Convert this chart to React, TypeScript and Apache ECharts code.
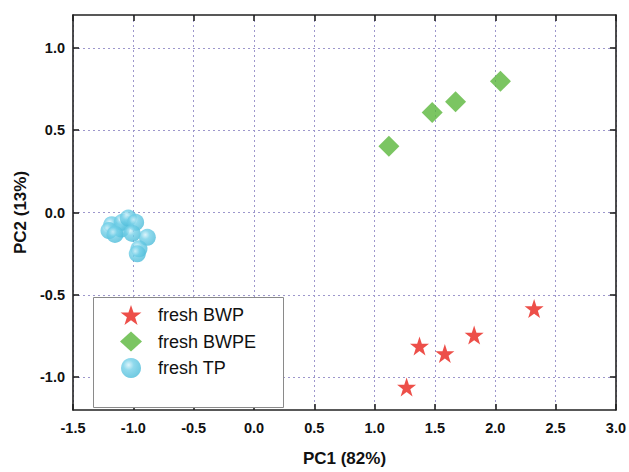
import React, { useEffect, useRef } from "react";
import * as echarts from "echarts";

const bwpX = [1.265, 1.372, 1.582, 1.825, 2.322];
const bwpY = [-1.06, -0.811, -0.857, -0.745, -0.584];

const bwpeX = [1.118, 1.477, 1.671, 2.043];
const bwpeY = [0.402, 0.607, 0.673, 0.797];

const tpX = [-1.179, -1.202, -1.1, -1.092, -1.042, -0.981, -1.009, -0.884, -0.953, -0.967, -1.152];
const tpY = [-0.074, -0.11, -0.101, -0.06, -0.034, -0.06, -0.127, -0.151, -0.221, -0.251, -0.133];

const seriesNames = ["fresh BWP", "fresh BWPE", "fresh TP"];
const yTickValues = [-1.0, -0.5, 0.0, 0.5, 1.0];

const STAR = "path://M50,2 L61.5,36 L97,36 L68.5,57.5 L79.5,92 L50,71 L20.5,92 L31.5,57.5 L3,36 L38.5,36 Z";
const FONT = 'Arial, "Liberation Sans", sans-serif';

const zip = (xs: number[], ys: number[]) => xs.map((x, i) => [x, ys[i]]);

const sphere = new echarts.graphic.RadialGradient(0.38, 0.35, 0.75, [
  { offset: 0, color: "#d6f2fa" },
  { offset: 0.35, color: "#74d0e8" },
  { offset: 1, color: "#45b8d6" },
]);

export default function App() {
  const ref = useRef<HTMLDivElement>(null);
  useEffect(() => {
    if (!ref.current) return;
    const chart = echarts.init(ref.current, undefined, { renderer: "svg" });
    const gridLine = { show: true, lineStyle: { color: "#9d97cc", type: [2, 3], width: 1 } };
    const frameLine = { show: true, onZero: false, lineStyle: { color: "#222", width: 1.6 } };
    const tick = { show: true, inside: true, length: 6, lineStyle: { color: "#222", width: 1.6 } };
    const labelStyle = { fontFamily: FONT, fontWeight: "bold" as const, fontSize: 14.5, color: "#111" };
    const titleStyle = { fontFamily: FONT, fontWeight: "bold" as const, fontSize: 17, color: "#111" };
    chart.setOption({
      animation: false,
      backgroundColor: "#fff",
      grid: { left: 73, right: 12, top: 15, bottom: 58, containLabel: false },
      xAxis: [
        {
          type: "value",
          min: -1.5,
          max: 3.0,
          interval: 0.5,
          position: "bottom",
          name: "PC1 (82%)",
          nameLocation: "middle",
          nameGap: 40,
          nameTextStyle: titleStyle,
          axisLine: frameLine,
          axisTick: tick,
          axisLabel: { ...labelStyle, margin: 10, formatter: (v: number) => v.toFixed(1) },
          splitLine: gridLine,
        },
        {
          type: "value",
          min: -1.5,
          max: 3.0,
          interval: 0.5,
          position: "top",
          axisLine: frameLine,
          axisTick: tick,
          axisLabel: { show: false },
          splitLine: { show: false },
        },
      ],
      yAxis: [
        {
          type: "value",
          min: -1.2,
          max: 1.2,
          position: "left",
          name: "PC2 (13%)",
          nameLocation: "middle",
          nameGap: 42,
          nameTextStyle: titleStyle,
          axisLine: frameLine,
          axisTick: { ...tick, customValues: yTickValues },
          axisLabel: { ...labelStyle, margin: 8, customValues: yTickValues, formatter: (v: number) => v.toFixed(1) },
          splitLine: gridLine,
        },
        {
          type: "value",
          min: -1.2,
          max: 1.2,
          position: "right",
          axisLine: frameLine,
          axisTick: { ...tick, customValues: yTickValues },
          axisLabel: { show: false },
          splitLine: { show: false },
        },
      ],
      graphic: [
        {
          type: "rect",
          left: 93,
          top: 297,
          shape: { width: 190, height: 110 },
          style: { fill: "#fff", stroke: "#8a8a8a", lineWidth: 1 },
          z: 3,
        },
      ],
      legend: {
        left: 120,
        top: 305,
        padding: 0,
        orient: "vertical",
        itemWidth: 22,
        itemHeight: 20,
        itemGap: 6.5,
        z: 10,
        textStyle: { fontFamily: FONT, fontSize: 18, color: "#111", padding: [0, 0, 0, 11] },
        data: [
          { name: seriesNames[0], icon: STAR },
          { name: seriesNames[1], icon: "diamond" },
          { name: seriesNames[2], icon: "circle" },
        ],
      },
      series: [
        {
          name: seriesNames[0],
          type: "scatter",
          symbol: STAR,
          symbolSize: 19,
          itemStyle: { color: "#e8231c" },
          data: zip(bwpX, bwpY),
        },
        {
          name: seriesNames[1],
          type: "scatter",
          symbol: "diamond",
          symbolSize: 21,
          itemStyle: { color: "#5ab63b" },
          data: zip(bwpeX, bwpeY),
        },
        {
          name: seriesNames[2],
          type: "scatter",
          symbol: "circle",
          symbolSize: 17,
          itemStyle: { color: sphere },
          data: zip(tpX, tpY),
        },
      ],
    });
    return () => chart.dispose();
  }, []);
  return (
    <div
      ref={ref}
      style={{ position: "fixed", left: 0, top: 0, width: 629, height: 472, background: "#fff" }}
    />
  );
}
